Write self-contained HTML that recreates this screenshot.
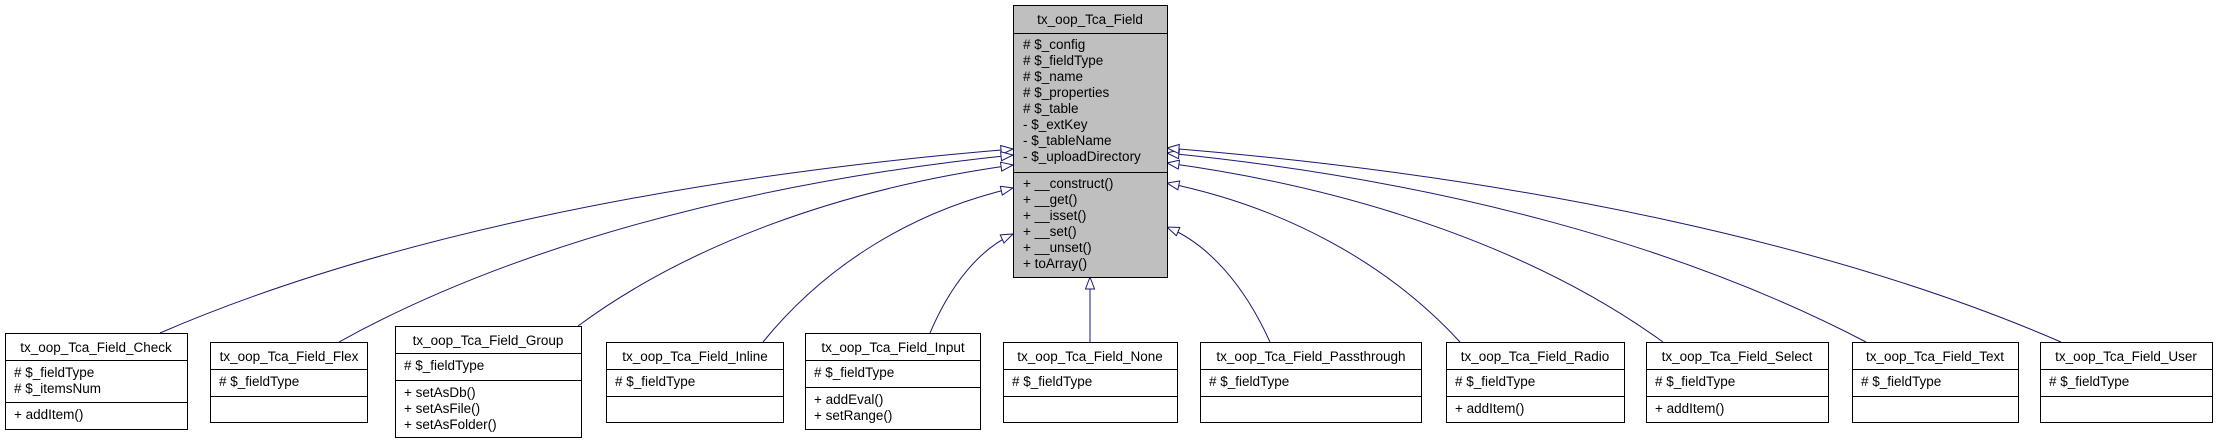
<!DOCTYPE html>
<html><head><meta charset="utf-8"><style>
html,body{margin:0;padding:0;background:#fff;}
svg{display:block;}
text{font-family:"Liberation Sans","DejaVu Sans",sans-serif;font-size:13.5px;fill:#000;}
</style></head><body>
<svg width="2216" height="443" viewBox="0 0 2216 443" xmlns="http://www.w3.org/2000/svg">
<defs>
<marker id="a" markerUnits="userSpaceOnUse" markerWidth="14" markerHeight="12" refX="13" refY="5" orient="auto">
<path d="M1,0.5 L13,5 L1,9.5 Z" fill="#fff" stroke="#191970" stroke-width="1"/>
</marker>
</defs>
<g fill="none" stroke="#191970" stroke-width="1">
<path d="M160,333 C373,241 672,177 1013,149" marker-end="url(#a)"/>
<path d="M339,342 C508,248.5 743,183 1013,155" marker-end="url(#a)"/>
<path d="M578,326 C687,245.5 839,189 1013,165" marker-end="url(#a)"/>
<path d="M763,342 C825.5,265 913,211 1013,188" marker-end="url(#a)"/>
<path d="M930,333 C951,283.5 980,249 1013,234" marker-end="url(#a)"/>
<path d="M1090,342 L1090,277" marker-end="url(#a)"/>
<path d="M1270,342 C1244,284.5 1208,244 1167,227" marker-end="url(#a)"/>
<path d="M1460,342 C1387,262.5 1284,207 1167,183" marker-end="url(#a)"/>
<path d="M1663,342 C1539,252.5 1365,190 1167,163" marker-end="url(#a)"/>
<path d="M1866,342 C1685,247.5 1447,181 1167,153" marker-end="url(#a)"/>
<path d="M2061,342 C1837,245 1525,177 1167,148" marker-end="url(#a)"/>
</g>

<!-- parent -->
<g stroke="#000" stroke-width="1">
<rect x="1013.5" y="5.5" width="154" height="272" fill="#bfbfbf"/>
<line x1="1013.5" y1="33.5" x2="1167.5" y2="33.5"/>
<line x1="1013.5" y1="172.5" x2="1167.5" y2="172.5"/>
</g>
<text x="1090" y="24" text-anchor="middle">tx_oop_Tca_Field</text>
<text x="1023" y="49"># $_config</text>
<text x="1023" y="65"># $_fieldType</text>
<text x="1023" y="81"># $_name</text>
<text x="1023" y="97"># $_properties</text>
<text x="1023" y="113"># $_table</text>
<text x="1023" y="129">- $_extKey</text>
<text x="1023" y="145">- $_tableName</text>
<text x="1023" y="161">- $_uploadDirectory</text>
<text x="1023" y="188">+ __construct()</text>
<text x="1023" y="204">+ __get()</text>
<text x="1023" y="220">+ __isset()</text>
<text x="1023" y="236">+ __set()</text>
<text x="1023" y="252">+ __unset()</text>
<text x="1023" y="268">+ toArray()</text>

<!-- children -->
<g stroke="#000" stroke-width="1" fill="#fff">
<!-- Check -->
<rect x="5.5" y="333.5" width="182" height="96"/><line x1="5.5" y1="360.5" x2="187.5" y2="360.5"/><line x1="5.5" y1="402.5" x2="187.5" y2="402.5"/>
<!-- Flex -->
<rect x="210.5" y="342.5" width="157" height="80"/><line x1="210.5" y1="369.5" x2="367.5" y2="369.5"/><line x1="210.5" y1="396.5" x2="367.5" y2="396.5"/>
<!-- Group -->
<rect x="395.5" y="326.5" width="186" height="111"/><line x1="395.5" y1="353.5" x2="581.5" y2="353.5"/><line x1="395.5" y1="380.5" x2="581.5" y2="380.5"/>
<!-- Inline -->
<rect x="606.5" y="342.5" width="177" height="80"/><line x1="606.5" y1="369.5" x2="783.5" y2="369.5"/><line x1="606.5" y1="396.5" x2="783.5" y2="396.5"/>
<!-- Input -->
<rect x="805.5" y="333.5" width="175" height="96"/><line x1="805.5" y1="360.5" x2="980.5" y2="360.5"/><line x1="805.5" y1="387.5" x2="980.5" y2="387.5"/>
<!-- None -->
<rect x="1003.5" y="342.5" width="174" height="80"/><line x1="1003.5" y1="369.5" x2="1177.5" y2="369.5"/><line x1="1003.5" y1="396.5" x2="1177.5" y2="396.5"/>
<!-- Passthrough -->
<rect x="1200.5" y="342.5" width="221" height="80"/><line x1="1200.5" y1="369.5" x2="1421.5" y2="369.5"/><line x1="1200.5" y1="396.5" x2="1421.5" y2="396.5"/>
<!-- Radio -->
<rect x="1446.5" y="342.5" width="178" height="80"/><line x1="1446.5" y1="369.5" x2="1624.5" y2="369.5"/><line x1="1446.5" y1="396.5" x2="1624.5" y2="396.5"/>
<!-- Select -->
<rect x="1646.5" y="342.5" width="182" height="80"/><line x1="1646.5" y1="369.5" x2="1828.5" y2="369.5"/><line x1="1646.5" y1="396.5" x2="1828.5" y2="396.5"/>
<!-- Text -->
<rect x="1852.5" y="342.5" width="166" height="80"/><line x1="1852.5" y1="369.5" x2="2018.5" y2="369.5"/><line x1="1852.5" y1="396.5" x2="2018.5" y2="396.5"/>
<!-- User -->
<rect x="2040.5" y="342.5" width="172" height="80"/><line x1="2040.5" y1="369.5" x2="2212.5" y2="369.5"/><line x1="2040.5" y1="396.5" x2="2212.5" y2="396.5"/>
</g>

<text x="96" y="352" text-anchor="middle">tx_oop_Tca_Field_Check</text>
<text x="14" y="377"># $_fieldType</text>
<text x="14" y="393"># $_itemsNum</text>
<text x="14" y="419">+ addItem()</text>

<text x="289" y="361" text-anchor="middle">tx_oop_Tca_Field_Flex</text>
<text x="219" y="386"># $_fieldType</text>

<text x="488" y="345" text-anchor="middle">tx_oop_Tca_Field_Group</text>
<text x="404" y="370"># $_fieldType</text>
<text x="404" y="397">+ setAsDb()</text>
<text x="404" y="413">+ setAsFile()</text>
<text x="404" y="429">+ setAsFolder()</text>

<text x="695" y="361" text-anchor="middle">tx_oop_Tca_Field_Inline</text>
<text x="615" y="386"># $_fieldType</text>

<text x="893" y="352" text-anchor="middle">tx_oop_Tca_Field_Input</text>
<text x="814" y="377"># $_fieldType</text>
<text x="814" y="404">+ addEval()</text>
<text x="814" y="420">+ setRange()</text>

<text x="1090" y="361" text-anchor="middle">tx_oop_Tca_Field_None</text>
<text x="1012" y="386"># $_fieldType</text>

<text x="1311" y="361" text-anchor="middle">tx_oop_Tca_Field_Passthrough</text>
<text x="1209" y="386"># $_fieldType</text>

<text x="1535" y="361" text-anchor="middle">tx_oop_Tca_Field_Radio</text>
<text x="1455" y="386"># $_fieldType</text>
<text x="1455" y="413">+ addItem()</text>

<text x="1737" y="361" text-anchor="middle">tx_oop_Tca_Field_Select</text>
<text x="1655" y="386"># $_fieldType</text>
<text x="1655" y="413">+ addItem()</text>

<text x="1935" y="361" text-anchor="middle">tx_oop_Tca_Field_Text</text>
<text x="1861" y="386"># $_fieldType</text>

<text x="2126" y="361" text-anchor="middle">tx_oop_Tca_Field_User</text>
<text x="2049" y="386"># $_fieldType</text>
</svg>
</body></html>
